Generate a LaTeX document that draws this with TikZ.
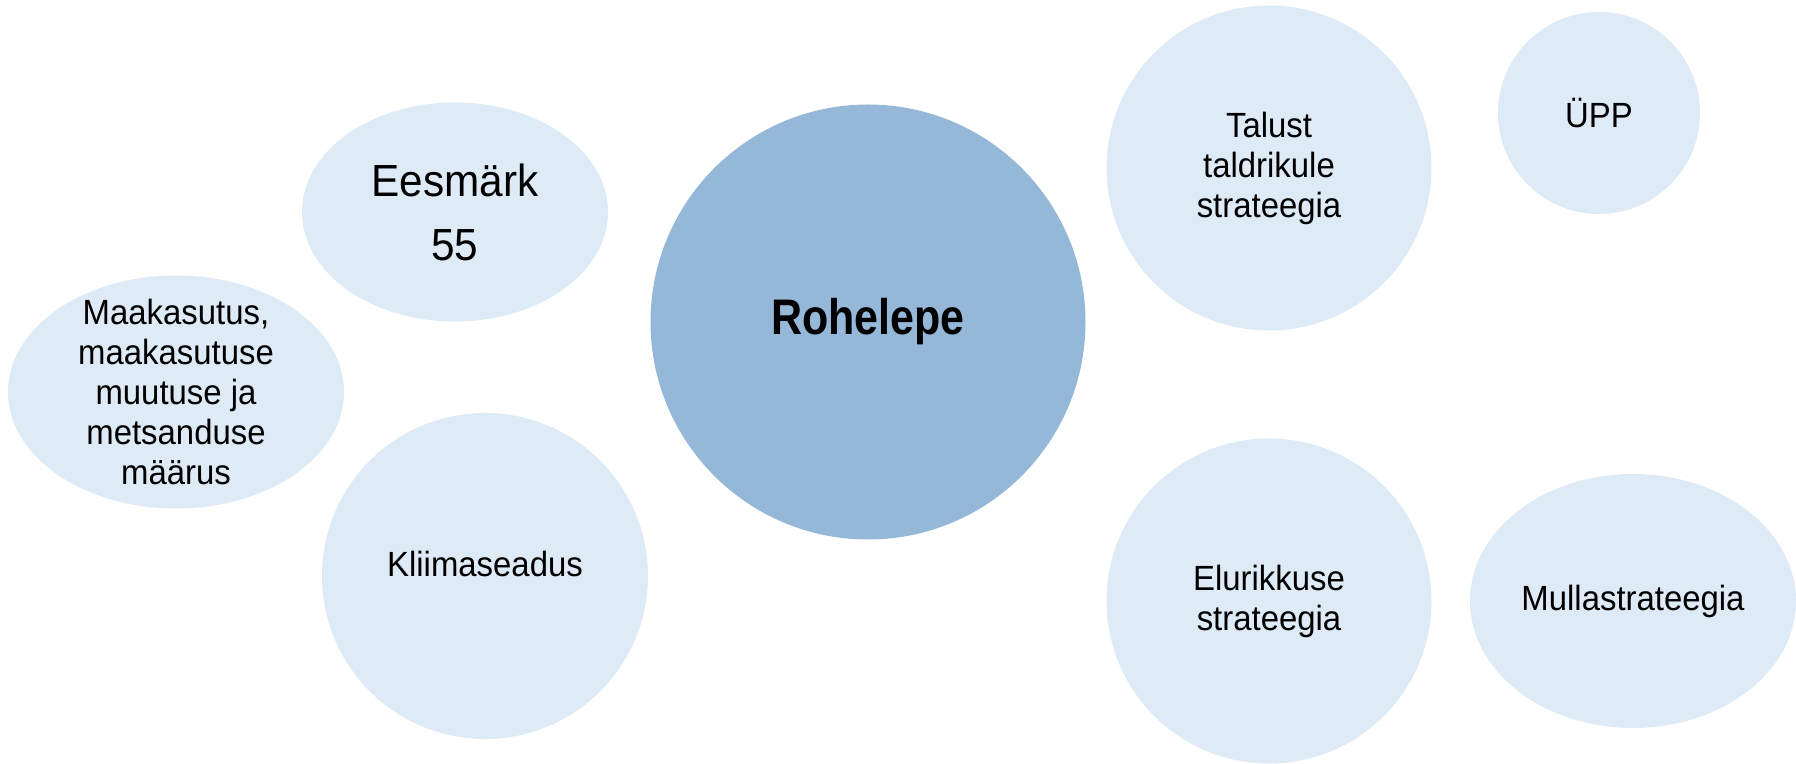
\documentclass[tikz,border=0pt]{standalone}
\usepackage{fontspec}
\setmainfont{Liberation Sans}[FakeStretch=0.94]
\newfontfamily\narrowbold{Liberation Sans}[FakeStretch=0.86]
\usepackage{tikz}
\usetikzlibrary{shapes}
\definecolor{paleblue}{HTML}{DEEAF6}
\definecolor{midblue}{HTML}{95B8D9}
\newcommand{\bodytext}{\fontsize{17.5}{20}\selectfont}
\newcommand{\bigtext}{\fontsize{22.5}{32}\selectfont}
\newcommand{\coretext}{\narrowbold\bfseries\fontsize{25}{30}\selectfont}
\tikzstyle{bubble} = [ellipse, draw=none, fill=paleblue, inner sep=0pt,
    text centered, align=center, font=\bodytext]
\tikzstyle{ball} = [circle, draw=none, fill=paleblue, inner sep=0pt,
    text centered, align=center, font=\bodytext]
\tikzstyle{core} = [ball, fill=midblue, minimum size=217.5pt, font=\coretext]

\begin{document}
\begin{tikzpicture}[x=0.5pt, y=-0.5pt]
    \useasboundingbox (0,0) rectangle (1796,764);
    % Place nodes
    \node [core] (rohelepe) at (868,322) {Rohelepe};
    \node [bubble, minimum width=153pt, minimum height=109.5pt, font=\bigtext] (eesmark) at (455,212) {Eesmärk\\55};
    \node [bubble, minimum width=168pt, minimum height=116.5pt, inner ysep=-12pt] (maakasutus) at (176,392)
        {Maakasutus,\\maakasutuse\\muutuse ja\\metsanduse\\määrus};
    \node [ball, minimum size=163pt, text depth=12pt] (kliima) at (485,576) {Kliimaseadus};
    \node [ball, minimum size=162.5pt] (talust) at (1269,168) {Talust\\taldrikule\\strateegia};
    \node [ball, minimum size=101pt] (upp) at (1599,113) {ÜPP};
    \node [ball, minimum size=162.5pt] (elurikkus) at (1269,601) {Elurikkuse\\strateegia};
    \node [bubble, minimum width=163pt, minimum height=127pt] (mullastr) at (1633,601) {Mullastrateegia};
\end{tikzpicture}
\end{document}
